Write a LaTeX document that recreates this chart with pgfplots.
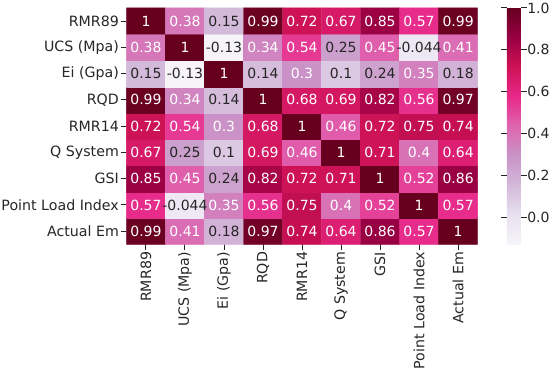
\documentclass[border=0pt]{standalone}
\usepackage{fontspec}
\setmainfont{DejaVu Sans}
\usepackage{pgfplots}
\pgfplotsset{compat=1.18}
\usepackage{pgfplotstable}
\definecolor{dk}{RGB}{38,38,38}
\pgfplotsset{colormap={PuRd}{rgb255=(247,244,249) rgb255=(231,225,239) rgb255=(212,185,218) rgb255=(201,148,199) rgb255=(223,101,176) rgb255=(231,41,138) rgb255=(206,18,86) rgb255=(152,0,67) rgb255=(103,0,31)}}
\pgfplotstableread{
x y v
0 0 0.99
1 0 0.41
2 0 0.18
3 0 0.97
4 0 0.74
5 0 0.64
6 0 0.86
7 0 0.57
8 0 1
0 1 0.57
1 1 -0.044
2 1 0.35
3 1 0.56
4 1 0.75
5 1 0.4
6 1 0.52
7 1 1
8 1 0.57
0 2 0.85
1 2 0.45
2 2 0.24
3 2 0.82
4 2 0.72
5 2 0.71
6 2 1
7 2 0.52
8 2 0.86
0 3 0.67
1 3 0.25
2 3 0.1
3 3 0.69
4 3 0.46
5 3 1
6 3 0.71
7 3 0.4
8 3 0.64
0 4 0.72
1 4 0.54
2 4 0.3
3 4 0.68
4 4 1
5 4 0.46
6 4 0.72
7 4 0.75
8 4 0.74
0 5 0.99
1 5 0.34
2 5 0.14
3 5 1
4 5 0.68
5 5 0.69
6 5 0.82
7 5 0.56
8 5 0.97
0 6 0.15
1 6 -0.13
2 6 1
3 6 0.14
4 6 0.3
5 6 0.1
6 6 0.24
7 6 0.35
8 6 0.18
0 7 0.38
1 7 1
2 7 -0.13
3 7 0.34
4 7 0.54
5 7 0.25
6 7 0.45
7 7 -0.044
8 7 0.41
0 8 1
1 8 0.38
2 8 0.15
3 8 0.99
4 8 0.72
5 8 0.67
6 8 0.85
7 8 0.57
8 8 0.99
}\data
\pgfplotstableread{
x y v
1 0 0.41
3 0 0.97
4 0 0.74
5 0 0.64
6 0 0.86
7 0 0.57
0 0 0.99
8 0 1
0 1 0.57
2 1 0.35
3 1 0.56
4 1 0.75
5 1 0.4
6 1 0.52
7 1 1
8 1 0.57
0 2 0.85
1 2 0.45
3 2 0.82
4 2 0.72
5 2 0.71
6 2 1
7 2 0.52
8 2 0.86
0 3 0.67
3 3 0.69
4 3 0.46
5 3 1
6 3 0.71
7 3 0.4
8 3 0.64
0 4 0.72
1 4 0.54
2 4 0.3
3 4 0.68
4 4 1
5 4 0.46
6 4 0.72
7 4 0.75
8 4 0.74
0 5 0.99
1 5 0.34
3 5 1
4 5 0.68
5 5 0.69
6 5 0.82
7 5 0.56
8 5 0.97
2 6 1
4 6 0.3
7 6 0.35
0 7 0.38
1 7 1
3 7 0.34
4 7 0.54
6 7 0.45
8 7 0.41
0 8 1
1 8 0.38
3 8 0.99
4 8 0.72
5 8 0.67
6 8 0.85
7 8 0.57
8 8 0.99
}\whitelbl
\pgfplotstableread{
x y v
2 0 0.18
1 1 -0.044
2 2 0.24
1 3 0.25
2 3 0.1
2 5 0.14
0 6 0.15
1 6 -0.13
3 6 0.14
5 6 0.1
6 6 0.24
8 6 0.18
2 7 -0.13
5 7 0.25
7 7 -0.044
2 8 0.15
}\darklbl
\begin{document}
\begin{tikzpicture}
\begin{axis}[
  name=main,
  scale only axis,
  width=355bp, height=239bp,
  xmin=-0.5, xmax=8.5, ymin=-0.5, ymax=8.5,
  enlargelimits=false,
  axis line style={draw=none},
  colormap name=PuRd,
  point meta min=-0.13, point meta max=1,
  xtick={0,...,8}, ytick={0,...,8},
  xticklabels={RMR89, UCS (Mpa), Ei (Gpa), RQD, RMR14, Q System, GSI, Point Load Index, Actual Em},
  yticklabels={Actual Em, Point Load Index, GSI, Q System, RMR14, RQD, Ei (Gpa), UCS (Mpa), RMR89},
  xtick pos=bottom, ytick pos=left,
  tick align=outside,
  major tick length=6bp,
  tick style={dk, line width=1bp},
  tick label style={font=\fontsize{14.4}{17}\selectfont, text=dk, inner sep=1.5bp},
  x tick label style={rotate=90, anchor=east},
  /pgf/number format/assume math mode=true,
  colorbar,
  colorbar style={
    at={(parent axis.north east)}, anchor=north west, xshift=21bp,
    width=14bp,
    axis line style={draw=none},
    ytick={0,0.2,0.4,0.6,0.8,1},
    yticklabel style={/pgf/number format/.cd, fixed, fixed zerofill, precision=1, assume math mode=true},
    tick align=outside,
    major tick length=6bp,
    tick style={dk, line width=1bp},
    tick label style={font=\fontsize{14.2}{17}\selectfont, text=dk, inner sep=0.5bp},
  },
]
\addplot[matrix plot*, mesh/cols=9, point meta=explicit] table[x=x, y=y, meta=v]{\data};
\addplot[draw=none, mark=none, point meta=explicit symbolic,
  nodes near coords, nodes near coords align=center,
  every node near coord/.append style={font=\fontsize{14.2}{17}\selectfont, inner sep=0pt, text=white}
] table[x=x, y=y, meta=v]{\whitelbl};
\addplot[draw=none, mark=none, point meta=explicit symbolic,
  nodes near coords, nodes near coords align=center,
  every node near coord/.append style={font=\fontsize{14.2}{17}\selectfont, inner sep=0pt, text=dk}
] table[x=x, y=y, meta=v]{\darklbl};
\end{axis}
\path ([yshift=8bp]main.north);
\end{tikzpicture}
\end{document}
